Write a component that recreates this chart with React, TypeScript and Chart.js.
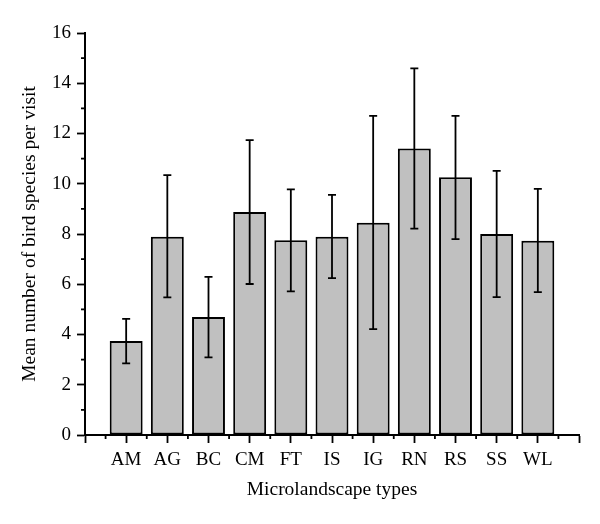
import React, { useEffect, useRef } from "react";
import { Chart, registerables } from "chart.js";

Chart.register(...registerables);

const categories = ["AM", "AG", "BC", "CM", "FT", "IS", "IG", "RN", "RS", "SS", "WL"];
const means = [3.74, 7.89, 4.7, 8.88, 7.75, 7.89, 8.45, 11.4, 10.26, 8.0, 7.73];
const errLow = [2.85, 5.48, 3.09, 6.01, 5.72, 6.24, 4.21, 8.21, 7.8, 5.49, 5.69];
const errHigh = [4.62, 10.34, 6.29, 11.74, 9.78, 9.56, 12.7, 14.59, 12.7, 10.51, 9.8];
const yMajorTicks = [0, 2, 4, 6, 8, 10, 12, 14, 16];

const FONT = "'Liberation Serif', 'Times New Roman', serif";

const extrasPlugin = {
  id: "extras",
  afterDraw(chart: any) {
    const { ctx, scales } = chart;
    const x = scales.x;
    const y = scales.y;
    ctx.save();
    ctx.strokeStyle = "#000";
    ctx.lineWidth = 1.8;
    // minor y ticks
    for (let i = 0; i < yMajorTicks.length - 1; i++) {
      const v = (yMajorTicks[i] + yMajorTicks[i + 1]) / 2;
      const py = y.getPixelForValue(v);
      ctx.beginPath();
      ctx.moveTo(y.right - 4, py);
      ctx.lineTo(y.right, py);
      ctx.stroke();
    }
    // minor x ticks
    for (let i = 0; i <= categories.length; i++) {
      const px = x.getPixelForValue(i + 0.5);
      ctx.beginPath();
      ctx.moveTo(px, x.top);
      ctx.lineTo(px, x.top + 4);
      ctx.stroke();
    }
    // error bars
    const meta = chart.getDatasetMeta(0);
    for (let i = 0; i < categories.length; i++) {
      const el = meta.data[i + 1];
      const px = el.x;
      const yl = y.getPixelForValue(errLow[i]);
      const yh = y.getPixelForValue(errHigh[i]);
      ctx.beginPath();
      ctx.moveTo(px, yl);
      ctx.lineTo(px, yh);
      ctx.moveTo(px - 4, yl);
      ctx.lineTo(px + 4, yl);
      ctx.moveTo(px - 4, yh);
      ctx.lineTo(px + 4, yh);
      ctx.stroke();
    }
    ctx.restore();
  },
};

export default function App() {
  const ref = useRef<HTMLCanvasElement | null>(null);
  useEffect(() => {
    if (!ref.current) return;
    const labels = ["", ...categories, ""];
    const data = [null, ...means, null];
    const chart = new Chart(ref.current, {
      type: "bar",
      data: {
        labels,
        datasets: [
          {
            data,
            backgroundColor: "#c0c0c0",
            borderColor: "#000",
            borderWidth: 2,
            borderSkipped: false,
            barPercentage: 0.8,
            categoryPercentage: 1,
          },
        ],
      },
      options: {
        responsive: false,
        animation: false,
        layout: { padding: { top: 33, right: 21, left: 0, bottom: 0 } },
        plugins: { legend: { display: false }, tooltip: { enabled: false } },
        scales: {
          x: {
            offset: false,
            grid: {
              offset: false,
              drawOnChartArea: false,
              drawTicks: true,
              tickLength: 8,
              tickWidth: 1.8,
              tickColor: "#000",
            },
            border: { display: true, color: "#000", width: 2 },
            ticks: {
              color: "#000",
              font: { family: FONT, size: 19 },
              padding: 6,
              maxRotation: 0,
              autoSkip: false,
            },
            title: {
              display: true,
              text: "Microlandscape types",
              color: "#000",
              font: { family: FONT, size: 19.5 },
              padding: { top: 0, bottom: 22 },
            },
            afterFit(scale: any) {
              scale.height = 89;
            },
          },
          y: {
            min: 0,
            max: 16,
            grid: {
              drawOnChartArea: false,
              drawTicks: true,
              tickLength: 8,
              tickWidth: 1.8,
              tickColor: "#000",
            },
            border: { display: true, color: "#000", width: 2 },
            ticks: {
              stepSize: 2,
              color: "#000",
              font: { family: FONT, size: 19 },
              padding: 6,
            },
            title: {
              display: true,
              text: "Mean number of bird species per visit",
              color: "#000",
              font: { family: FONT, size: 19.5 },
              padding: { top: 18, bottom: 0 },
            },
            afterFit(scale: any) {
              scale.width = 85;
            },
          },
        },
      },
      plugins: [extrasPlugin],
    });
    return () => chart.destroy();
  }, []);
  return (
    <div style={{ position: "absolute", left: 0, top: 0, width: 600, height: 524, background: "#fff" }}>
      <canvas ref={ref} width={600} height={524} />
    </div>
  );
}
